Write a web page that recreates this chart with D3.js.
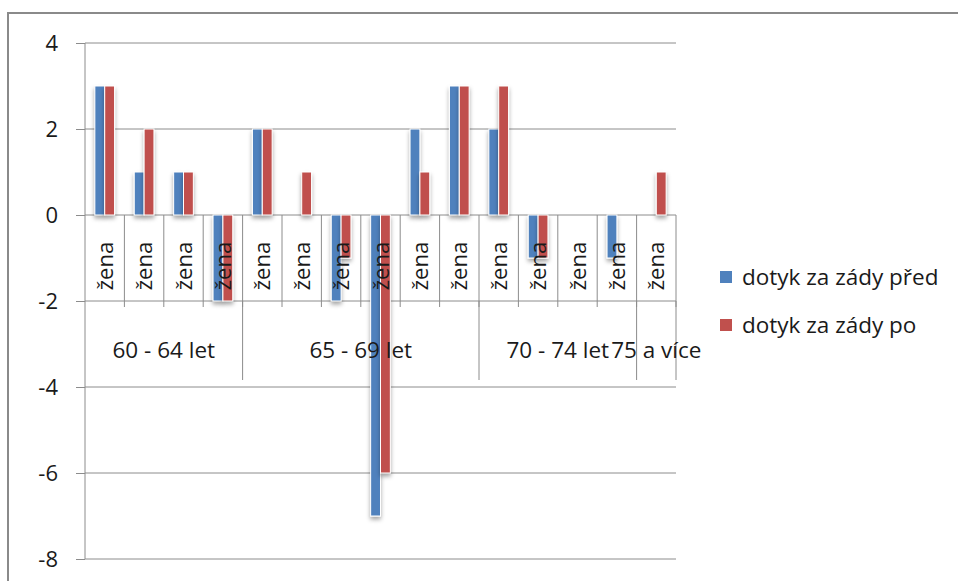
<!DOCTYPE html>
<html>
<head>
<meta charset="utf-8">
<script src="https://cdn.jsdelivr.net/npm/d3@7"></script>
<style>
  html, body { margin: 0; padding: 0; background: #fff; }
  svg { display: block; }
  text { font-family: "Open Sans", sans-serif; fill: #1a1a1a; }
</style>
</head>
<body>
<svg id="chart" width="958" height="581"></svg>
<script>
// Category labels (one per bar pair) and their age groups
const categories = ["žena","žena","žena","žena","žena","žena","žena","žena","žena","žena","žena","žena","žena","žena","žena"];
const groups = [
  { name: "60 - 64 let", count: 4 },
  { name: "65 - 69 let", count: 6 },
  { name: "70 - 74 let", count: 4 },
  { name: "75 a více", count: 1 }
];
const seriesNames = ["dotyk za zády před", "dotyk za zády po"];
const valuesBefore = [3, 1, 1, -2, 2, 0, -2, -7, 2, 3, 2, -1, 0, -1, 0];
const valuesAfter  = [3, 2, 1, -2, 2, 1, -1, -6, 1, 3, 3, -1, 0, 0, 1];
const yTicks = [4, 2, 0, -2, -4, -6, -8];
const colors = ["#4F81BD", "#C0504D"];

const svg = d3.select("#chart");
const plot = { left: 85, right: 676, top: 43, bottom: 559 };

// drop shadow used under the bars
const defs = svg.append("defs");
const f = defs.append("filter").attr("id", "shadow")
  .attr("x", "-50%").attr("y", "-10%").attr("width", "200%").attr("height", "130%");
f.append("feDropShadow").attr("dx", 0).attr("dy", 3).attr("stdDeviation", 2)
  .attr("flood-color", "#000").attr("flood-opacity", 0.35);

// outer chart frame
svg.append("rect").attr("x", 8).attr("y", 13).attr("width", 1100).attr("height", 1100)
  .attr("fill", "none").attr("stroke", "#8a8a8a").attr("stroke-width", 2);

const y = d3.scaleLinear().domain([-8, 4]).range([plot.bottom, plot.top]);
const x = d3.scaleBand().domain(d3.range(categories.length)).range([plot.left, plot.right]).padding(0);
const step = x.bandwidth();
const xs = d3.scaleBand().domain([0, 1]).range([step / 4, step * 3 / 4]).padding(0);

// horizontal gridlines + value axis
const yAxis = d3.axisLeft(y).tickValues(yTicks).tickSize(9).tickPadding(18).tickFormat(d => String(d));
const ya = svg.append("g").attr("transform", `translate(${plot.left},0)`).call(yAxis);
ya.select(".domain").attr("stroke", "#8c8c8c").attr("d", `M0,${plot.top}V${plot.bottom}`);
ya.selectAll(".tick line").attr("stroke", "#8c8c8c");
ya.selectAll(".tick text").attr("font-size", 22).attr("fill", "#1a1a1a")
  .attr("font-family", "'Open Sans', sans-serif").attr("x", -27);
svg.append("g").selectAll("line").data(yTicks).join("line")
  .attr("x1", plot.left).attr("x2", plot.right)
  .attr("y1", d => y(d)).attr("y2", d => y(d))
  .attr("stroke", "#8c8c8c").attr("stroke-width", 1);

// category separators
const y0 = y(0), yCatEnd = y(-2) + 6, yGroupEnd = y(-4) - 7;
svg.append("g").selectAll("line").data(d3.range(1, categories.length + 1)).join("line")
  .attr("x1", i => plot.left + i * step).attr("x2", i => plot.left + i * step)
  .attr("y1", y0).attr("y2", yCatEnd)
  .attr("stroke", "#8c8c8c");

// group separators
let acc = 0;
const groupPos = groups.map(g => { const s = acc; acc += g.count; return { ...g, start: s, end: acc }; });
svg.append("g").selectAll("line").data(groupPos).join("line")
  .attr("x1", g => plot.left + g.end * step).attr("x2", g => plot.left + g.end * step)
  .attr("y1", y(-2)).attr("y2", yGroupEnd)
  .attr("stroke", "#8c8c8c");

// bars
const series = [valuesBefore, valuesAfter];
series.forEach((vals, s) => {
  svg.append("g").attr("filter", "url(#shadow)").selectAll("rect")
    .data(vals.map((v, i) => ({ v, i }))).join("rect")
    .filter(d => d.v !== 0)
    .attr("x", d => x(d.i) + xs(s))
    .attr("width", xs.bandwidth())
    .attr("y", d => Math.min(y(d.v), y0))
    .attr("height", d => Math.abs(y(d.v) - y0))
    .attr("fill", colors[s])
    .attr("stroke", "#fff").attr("stroke-width", 1);
});

// category labels (rotated)
svg.append("g").selectAll("text").data(categories).join("text")
  .attr("transform", (d, i) => `translate(${x(i) + step / 2 + 8},266) rotate(-90)`)
  .attr("text-anchor", "middle").attr("font-size", 22)
  .text(d => d);

// group labels
svg.append("g").selectAll("text").data(groupPos).join("text")
  .attr("x", g => plot.left + (g.start + g.end) / 2 * step)
  .attr("y", 358)
  .attr("text-anchor", "middle").attr("font-size", 22.5)
  .text(g => g.name);

// legend
const lg = svg.append("g");
seriesNames.forEach((name, s) => {
  const ly = 271 + s * 48;
  lg.append("rect").attr("x", 720).attr("y", ly).attr("width", 12).attr("height", 12).attr("fill", colors[s]);
  lg.append("text").attr("x", 742).attr("y", ly + 14).attr("font-size", 22.5).text(name);
});
</script>
</body>
</html>
